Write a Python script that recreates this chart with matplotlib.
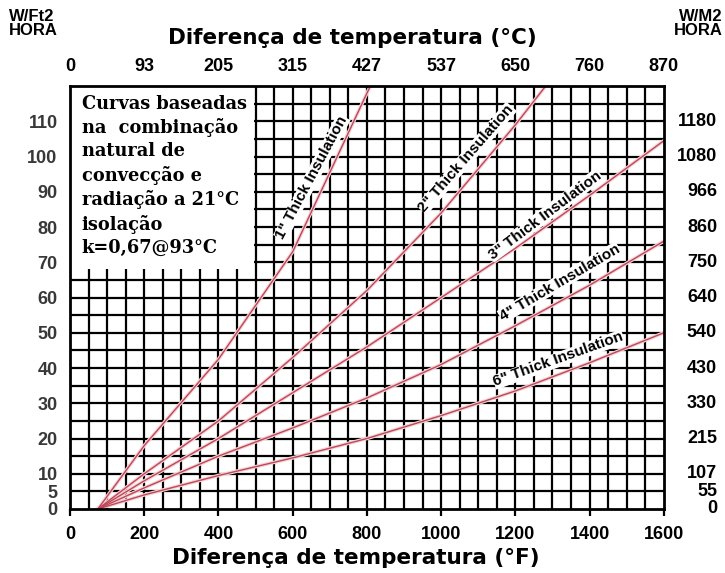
import matplotlib
matplotlib.use("Agg")
import matplotlib.pyplot as plt
from matplotlib.patches import Rectangle
from matplotlib.transforms import blended_transform_factory
import numpy as np

# temperature difference (F) and heat loss (W/ft2 hr)
temp_f = [75, 200, 400, 600, 800, 1000, 1200, 1400, 1600]
loss_1in = [0, 18, 42.5, 73, 118, 160, None, None, None]
loss_2in = [0, 10, 25, 43, 62, 84, 109, 136, None]
loss_3in = [0, 8, 20, 33, 46, 60, 74, 89, 104.5]
loss_4in = [0, 6, 15, 23, 31.5, 41, 52, 63.5, 76]
loss_6in = [0, 4, 9.5, 14.5, 20, 26.5, 33.5, 41.5, 50]

curve_labels = ['1" Thick Insulation', '2" Thick Insulation', '3" Thick Insulation',
                '4" Thick Insulation', '6" Thick Insulation']

bottom_ticks = [0, 200, 400, 600, 800, 1000, 1200, 1400, 1600]
top_labels = ['0', '93', '205', '315', '427', '537', '650', '760', '870']
left_ticks = [0, 5, 10, 20, 30, 40, 50, 60, 70, 80, 90, 100, 110]
right_labels = ['0', '55', '107', '215', '330', '430', '540', '640', '750', '860', '966',
                '1080', '1180']

note = ("Curvas baseadas\nna  combinação\nnatural de\nconvecção e\n"
        "radiação a 21°C\nisolação\nk=0,67@93°C")

line_color = '#bd4858'

fig = plt.figure(figsize=(7.25, 5.73), dpi=100)
ax = fig.add_axes([0.0966, 0.1117, 0.819, 0.738])
ax.set_xlim(0, 1600)
ax.set_ylim(0, 120)

# grid
for gx in np.arange(50, 1600, 50):
    ax.axvline(gx, color='black', lw=1.6, zorder=1)
for gy in np.arange(5, 120, 5):
    ax.axhline(gy, color='black', lw=1.6, zorder=1)

# white note box covering grid
ax.add_patch(Rectangle((-5, 68), 502, 60, facecolor='white', edgecolor='none', zorder=2))
ax.text(31, 117.6, note, family='DejaVu Serif', fontweight='bold', fontsize=12.8,
        va='top', ha='left', linespacing=1.37, zorder=3)

# curves
for series in [loss_1in, loss_2in, loss_3in, loss_4in, loss_6in]:
    xs = [x for x, y in zip(temp_f, series) if y is not None]
    ys = [y for y in series if y is not None]
    ax.plot(xs, ys, color='#f6d2d6', lw=2.6, zorder=3)
    ax.plot(xs, ys, color=line_color, lw=1.0, zorder=4)

# curve labels: anchor point on the chart, rotation
label_pos = [(663, 93.4, 62), (1078, 98.6, 49), (1288, 82.3, 37), (1326, 63.1, 30.5),
             (1321, 41.1, 19.7)]
for text, (lx, ly, rot) in zip(curve_labels, label_pos):
    th = np.radians(rot)
    off = 3.5
    ax.annotate(text, (lx, ly), xytext=(-off * np.sin(th), off * np.cos(th)),
                textcoords='offset points', rotation=rot, ha='center', va='center',
                rotation_mode='anchor', family='Liberation Sans', fontweight='bold',
                fontsize=11, zorder=5,
                bbox=dict(boxstyle='square,pad=0.02', facecolor='white', edgecolor='none'))

for sp in ax.spines.values():
    sp.set_linewidth(2)
    sp.set_zorder(6)

tick_font = dict(family='Liberation Sans', fontweight='bold', fontsize=13)

ax.set_xticks(bottom_ticks)
ax.set_xticklabels([str(t) for t in bottom_ticks], **tick_font)
ax.tick_params(axis='x', direction='out', length=5, width=1.6, pad=7)
ax.set_yticks(left_ticks)
ax.set_yticklabels([str(t) for t in left_ticks], color='#383838', **tick_font)
ax.tick_params(axis='y', length=0, pad=9)

ax_top = ax.secondary_xaxis('top')
ax_top.set_xticks(bottom_ticks)
ax_top.set_xticklabels(top_labels, **tick_font)
ax_top.tick_params(length=0, pad=8)

# right-hand W/m2 labels, right aligned near the figure edge
trans = blended_transform_factory(fig.transFigure, ax.transData)
for val, lab in zip(left_ticks, right_labels):
    ax.text(0.989, val, lab, transform=trans, ha='right', va='center', clip_on=False,
            **tick_font)

title_font = dict(family='DejaVu Sans', fontweight='bold', fontsize=15.5)
fig.text(0.491, 0.026, 'Diferença de temperatura (°F)', ha='center', va='center', **title_font)
fig.text(0.486, 0.934, 'Diferença de temperatura (°C)', ha='center', va='center', **title_font)

unit_font = dict(family='Liberation Sans', fontweight='bold', fontsize=12, linespacing=0.95)
fig.text(0.012, 0.985, 'W/Ft2\nHORA', ha='left', va='top', **unit_font)
fig.text(0.997, 0.985, 'W/M2\nHORA', ha='right', va='top', **unit_font)

fig.savefig('out.png', dpi=100)
